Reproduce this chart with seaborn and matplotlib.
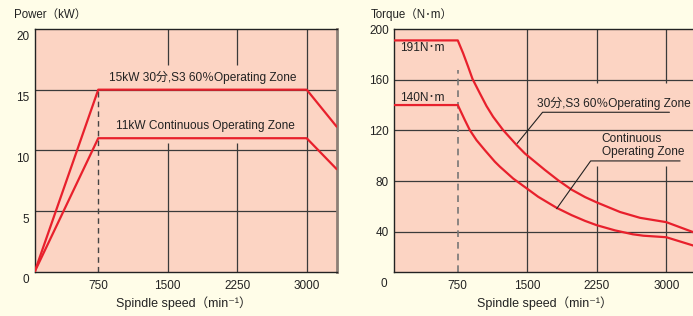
# Leistungs- und Drehmomentkennlinie der Spindel

import matplotlib
matplotlib.use("Agg")
import matplotlib.pyplot as plt
from matplotlib.transforms import ScaledTranslation
import seaborn as sns
import pandas as pd

# Daten
speed_power = [64, 750, 3000, 3324]
power_s3 = [0, 15, 15, 11.95]
power_cont = [0, 11, 11, 8.45]

speed_tq_s3 = [65, 750, 807, 861, 909, 988, 1060, 1131, 1240, 1384, 1474, 1582, 1690,
               1834, 1979, 2123, 2249, 2501, 2717, 3000, 3324]
torque_s3 = [191, 191, 181, 170.4, 160.6, 149.3, 139.2, 130.8, 120.2, 108.5, 101.8, 95.3, 88.8,
             80.6, 73.2, 67.4, 63.2, 55.6, 51, 47.6, 38.8]
speed_tq_cont = [65, 750, 826, 880, 952, 1042, 1150, 1204, 1348, 1474, 1618, 1817, 1979,
                 2123, 2249, 2447, 2640, 2753, 3000, 3324]
torque_cont = [140, 140, 128.2, 120.2, 112.3, 104.4, 95.3, 91.4, 82, 75.3, 67.6, 58.9, 53.1,
               48.6, 45.2, 41.1, 38, 36.9, 35.7, 28.4]

x_ticks = [750, 1500, 2250, 3000]
power_ticks = [0, 5, 10, 15, 20]
torque_ticks = [40, 80, 120, 160, 200]

df_power = pd.DataFrame({"speed": speed_power, "s3": power_s3, "cont": power_cont})
df_tq_s3 = pd.DataFrame({"speed": speed_tq_s3, "torque": torque_s3})
df_tq_cont = pd.DataFrame({"speed": speed_tq_cont, "torque": torque_cont})

# Farben
creme = "#FFFDE8"
lachs = "#FCD4C3"
rot = "#E8202C"
gitter = "#3A3A3A"
schrift = "#222222"

sns.set_theme(style="white")
plt.rcParams["font.family"] = ["Liberation Sans", "Noto Sans CJK JP", "DejaVu Sans"]

W, H = 693, 316
fig = plt.figure(figsize=(W / 100, H / 100), dpi=100, facecolor=creme)


def px(x, y):
    return x / W, 1 - y / H


ax1 = fig.add_axes([34.7 / W, (H - 271.7) / H, 302 / W, 242.7 / H])
ax2 = fig.add_axes([394.3 / W, (H - 271.7) / H, 302 / W, 242.7 / H])

for ax in (ax1, ax2):
    ax.set_facecolor(lachs)
    for s in ax.spines.values():
        s.set_color(schrift)
        s.set_linewidth(1.0)
    ax.set_xticks(x_ticks)
    ax.tick_params(axis="both", length=0, labelsize=8.5, colors=schrift)
    ax.tick_params(axis="x", pad=6)
    ax.tick_params(axis="y", pad=4)

# ---- Leistung ----
ax1.set_xlim(64, 3324)
ax1.set_ylim(0, 20)
ax1.set_yticks(power_ticks)
ax1.spines["right"].set_color("#8C7F76")
ax1.spines["right"].set_linewidth(2)

for yv in [5, 10, 15]:
    ax1.axhline(yv, color=gitter, lw=0.9, zorder=1)
for xv in [1500, 2250]:
    ax1.vlines(xv, 0, 10.6, color=gitter, lw=0.9, zorder=1)
    ax1.vlines(xv, 17.07, 20, color=gitter, lw=0.9, zorder=1)
ax1.vlines(3000, 0, 20, color=gitter, lw=0.9, zorder=1)
ax1.vlines(750, 0, 15, color="#444444", lw=1.0, linestyles=(0, (4, 3)), zorder=1)

sns.lineplot(data=df_power, x="speed", y="s3", ax=ax1, color=rot, lw=1.6, zorder=3)
sns.lineplot(data=df_power, x="speed", y="cont", ax=ax1, color=rot, lw=1.6, zorder=3)
ax1.set_xlabel("")
ax1.set_ylabel("")

ax1.text(1880, 16.0, "15kW 30分,S3 60％Operating Zone", ha="center", va="center", fontsize=8.6, color=schrift)
ax1.text(1907, 12.04, "11kW Continuous Operating Zone", ha="center", va="center", fontsize=8.6, color=schrift)

# y-Beschriftung etwas nach unten versetzt wie im Original
for lab in ax1.get_yticklabels():
    lab.set_transform(lab.get_transform() + ScaledTranslation(0, -7 / 100, fig.dpi_scale_trans))

# ---- Drehmoment ----
ax2.set_xlim(65, 3324)
ax2.set_ylim(8.5, 200)
ax2.set_yticks(torque_ticks)

for yv in [40, 80, 120, 160]:
    ax2.axhline(yv, color=gitter, lw=0.9, zorder=1)
ax2.vlines(1500, 8.5, 200, color=gitter, lw=0.9, zorder=1)
for xv in [2250, 3000]:
    ax2.vlines(xv, 157.5, 200, color=gitter, lw=0.9, zorder=1)
    ax2.vlines(xv, 8.5, 92, color=gitter, lw=0.9, zorder=1)
ax2.vlines(750, 8.5, 167.8, color="#777777", lw=1.2, linestyles=(0, (4, 3)), zorder=1)

sns.lineplot(data=df_tq_s3, x="speed", y="torque", ax=ax2, color=rot, lw=1.6, zorder=3,
             solid_joinstyle="round")
sns.lineplot(data=df_tq_cont, x="speed", y="torque", ax=ax2, color=rot, lw=1.6, zorder=3,
             solid_joinstyle="round")
ax2.set_xlabel("")
ax2.set_ylabel("")

ax2.text(131, 185.4, "191N･m", ha="left", va="center", fontsize=8.6, color=schrift)
ax2.text(131, 145.8, "140N･m", ha="left", va="center", fontsize=8.6, color=schrift)
ax2.text(1607, 141.4, "30分,S3 60％Operating Zone", ha="left", va="center", fontsize=8.6,
         color=schrift, clip_on=False)
ax2.text(2303, 108.1, "Continuous\nOperating Zone", ha="left", va="center", fontsize=8.6,
         color=schrift, linespacing=1.05)

# Hinweislinien
ax2.plot([1391, 1665, 3034], [109.7, 134.3, 134.3], color=schrift, lw=0.8, zorder=4)
ax2.plot([1817, 2184, 3149], [58.2, 95.9, 95.9], color=schrift, lw=0.8, zorder=4)

# Achsentitel
fig.text(*px(14, 15), "Power（kW）", ha="left", va="center", fontsize=8.3, color=schrift)
fig.text(*px(371, 15), "Torque（N･m）", ha="left", va="center", fontsize=8.3, color=schrift)
fig.text(*px(184, 303), "Spindle speed（min⁻¹）", ha="center", va="center", fontsize=9, color=schrift)
fig.text(*px(545, 303), "Spindle speed（min⁻¹）", ha="center", va="center", fontsize=9, color=schrift)
fig.text(*px(383.5, 284), "0", ha="center", va="center", fontsize=8.5, color=schrift)

fig.savefig("out.png", dpi=100, facecolor=creme)
